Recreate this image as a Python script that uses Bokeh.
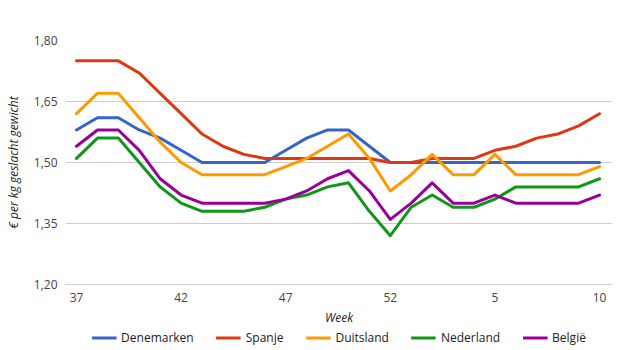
from bokeh.plotting import figure
from bokeh.layouts import column
from bokeh.models import Range1d, FixedTicker, CustomJSTickFormatter, Legend, LegendItem
from bokeh.embed import file_html
from bokeh.resources import INLINE

weeks = [37, 38, 39, 40, 41, 42, 43, 44, 45, 46, 47, 48, 49, 50, 51, 52,
         1, 2, 3, 4, 5, 6, 7, 8, 9, 10]
tick_labels = ["37", "42", "47", "52", "5", "10"]
y_ticks = [1.20, 1.35, 1.50, 1.65, 1.80]

denemarken = [1.58, 1.61, 1.61, 1.58, 1.56, 1.53, 1.50, 1.50, 1.50, 1.50, 1.53, 1.56, 1.58, 1.58, 1.54, 1.50,
              1.50, 1.50, 1.50, 1.50, 1.50, 1.50, 1.50, 1.50, 1.50, 1.50]
spanje = [1.75, 1.75, 1.75, 1.72, 1.67, 1.62, 1.57, 1.54, 1.52, 1.51, 1.51, 1.51, 1.51, 1.51, 1.51, 1.50,
          1.50, 1.51, 1.51, 1.51, 1.53, 1.54, 1.56, 1.57, 1.59, 1.62]
duitsland = [1.62, 1.67, 1.67, 1.61, 1.55, 1.50, 1.47, 1.47, 1.47, 1.47, 1.49, 1.51, 1.54, 1.57, 1.51, 1.43,
             1.47, 1.52, 1.47, 1.47, 1.52, 1.47, 1.47, 1.47, 1.47, 1.49]
nederland = [1.51, 1.56, 1.56, 1.50, 1.44, 1.40, 1.38, 1.38, 1.38, 1.39, 1.41, 1.42, 1.44, 1.45, 1.38, 1.32,
             1.39, 1.42, 1.39, 1.39, 1.41, 1.44, 1.44, 1.44, 1.44, 1.46]
belgie = [1.54, 1.58, 1.58, 1.53, 1.46, 1.42, 1.40, 1.40, 1.40, 1.40, 1.41, 1.43, 1.46, 1.48, 1.43, 1.36,
          1.40, 1.45, 1.40, 1.40, 1.42, 1.40, 1.40, 1.40, 1.40, 1.42]

series = [
    ("Denemarken", denemarken, "#3366cc"),
    ("Spanje", spanje, "#dc3912"),
    ("Duitsland", duitsland, "#ff9900"),
    ("Nederland", nederland, "#109618"),
    ("België", belgie, "#990099"),
]

FONT = "Open Sans"
x = list(range(len(weeks)))

p = figure(frame_width=547, frame_height=244, output_backend="svg", toolbar_location=None,
           x_range=Range1d(-0.526, 25.62), y_range=Range1d(1.20, 1.80),
           min_border_left=65, min_border_right=13, min_border_top=40, min_border_bottom=0)
p.outline_line_color = None
p.background_fill_color = "white"
p.border_fill_color = "white"

for name, vals, col in series:
    p.line(x, vals, line_color=col, line_width=3, line_join="round", line_cap="round")

# x axis
tick_pos = [weeks.index(int(t)) for t in tick_labels]
p.xaxis.ticker = FixedTicker(ticks=tick_pos)
p.xaxis.major_label_overrides = {tp: lbl for tp, lbl in zip(tick_pos, tick_labels)}
p.xaxis.axis_label = "Week"
p.xaxis.axis_label_text_font_style = "italic"
p.xaxis.axis_label_text_font = FONT
p.xaxis.axis_label_text_font_size = "12px"
p.xaxis.axis_label_text_color = "#222222"
p.xaxis.axis_label_standoff = 4
p.xaxis.major_label_text_font = FONT
p.xaxis.major_label_text_font_size = "12px"
p.xaxis.major_label_text_color = "#444444"
p.xaxis.major_label_standoff = 8
p.xaxis.major_tick_out = 0
p.xaxis.major_tick_in = 0
p.xaxis.minor_tick_out = 0
p.xaxis.minor_tick_in = 0
p.xaxis.axis_line_color = "#cccccc"
p.xaxis.major_tick_line_color = None
p.xaxis.minor_tick_line_color = None
p.xgrid.grid_line_color = None

# y axis
p.yaxis.ticker = FixedTicker(ticks=y_ticks)
p.yaxis.formatter = CustomJSTickFormatter(code="return tick.toFixed(2).replace('.', ',');")
p.yaxis.axis_label = "€ per kg geslacht gewicht"
p.yaxis.axis_label_text_font_style = "italic"
p.yaxis.axis_label_text_font = FONT
p.yaxis.axis_label_text_font_size = "12px"
p.yaxis.axis_label_text_color = "#222222"
p.yaxis.axis_label_standoff = 9
p.yaxis.major_label_text_font = FONT
p.yaxis.major_label_text_font_size = "12px"
p.yaxis.major_label_text_color = "#444444"
p.yaxis.major_label_standoff = 8
p.yaxis.major_tick_out = 0
p.yaxis.major_tick_in = 0
p.yaxis.minor_tick_out = 0
p.yaxis.minor_tick_in = 0
p.yaxis.axis_line_color = None
p.yaxis.major_tick_line_color = None
p.yaxis.minor_tick_line_color = None
p.ygrid.grid_line_color = "#cccccc"
p.ygrid.grid_line_width = 1

# legend strip: same series drawn out of view, legend centred under the plot
lg = figure(width=625, height=18, output_backend="svg", toolbar_location=None,
            x_range=Range1d(-0.526, 25.62), y_range=Range1d(0, 1),
            x_axis_location=None, y_axis_location=None,
            min_border_left=65, min_border_right=13, min_border_top=0, min_border_bottom=0)
lg.outline_line_color = None
lg.grid.grid_line_color = None
items = []
for name, vals, col in series:
    r = lg.line(x, vals, line_color=col, line_width=3)
    items.append(LegendItem(label=name, renderers=[r]))

legend = Legend(items=items, orientation="horizontal", location="center",
                label_text_font=FONT, label_text_font_size="12px", label_text_color="#222222",
                glyph_width=25, glyph_height=16, label_height=16, label_standoff=5, spacing=22,
                padding=1, margin=0, border_line_color=None, background_fill_alpha=0)
lg.add_layout(legend, "center")

layout = column(p, lg, spacing=0)
open("out.html", "w").write(file_html(layout, INLINE))
